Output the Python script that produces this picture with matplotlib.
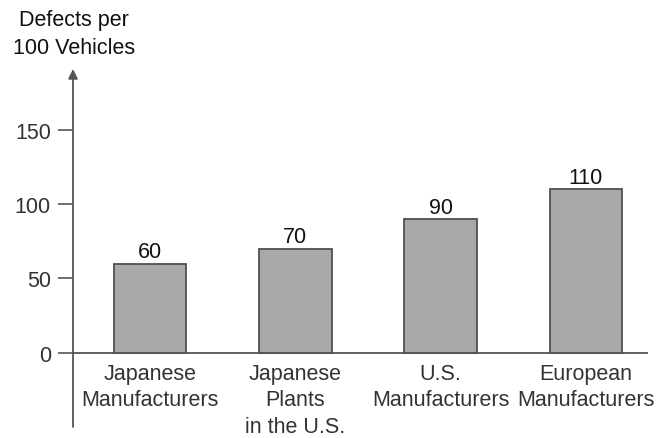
import matplotlib.pyplot as plt

categories = [
    "Japanese\nManufacturers",
    "Japanese\nPlants\nin the U.S.",
    "U.S.\nManufacturers",
    "European\nManufacturers",
]
defects = [60, 70, 90, 110]
yticks = [0, 50, 100, 150]

plt.rcParams["font.family"] = ["Liberation Sans", "DejaVu Sans"]
FS = 15.5

fig = plt.figure(figsize=(6.68, 4.39), dpi=100)
ax = fig.add_axes([0.1093, 0.0251, 0.8593, 0.8154])

x = list(range(len(categories)))
bars = ax.bar(x, defects, width=0.5, color="#a9a9a9", edgecolor="#505050",
              linewidth=1.3, zorder=2)
ax.bar_label(bars, labels=[str(v) for v in defects], padding=1,
             fontsize=FS, color="#111111")

ax.set_xlim(-0.53, 3.42)
ax.set_ylim(-50, 191)

for s in ax.spines.values():
    s.set_visible(False)

# baseline and arrowed y axis
ax.plot([-0.53, 3.42], [0, 0], color="#555555", lw=1.3, zorder=1, clip_on=False)
ax.annotate("", xy=(-0.53, 191), xytext=(-0.53, -50),
            arrowprops=dict(arrowstyle="-|>", color="#555555", lw=1.3,
                            mutation_scale=14, shrinkA=0, shrinkB=0),
            annotation_clip=False)

ax.set_yticks(yticks)
ax.set_yticklabels([str(t) for t in yticks], fontsize=FS, color="#333333")
ax.tick_params(axis="y", length=11, width=1.2, color="#555555", pad=5)

ax.set_xticks([])
for xi, lab in zip(x, categories):
    ax.text(xi, -7, lab, ha="center", va="top", fontsize=FS,
            color="#333333", linespacing=1.33)

fig.text(74 / 668, 1 - 10 / 439, "Defects per\n100 Vehicles", ha="center",
         va="top", fontsize=FS, color="#111111", linespacing=1.45)

fig.savefig("out.png", dpi=100)
